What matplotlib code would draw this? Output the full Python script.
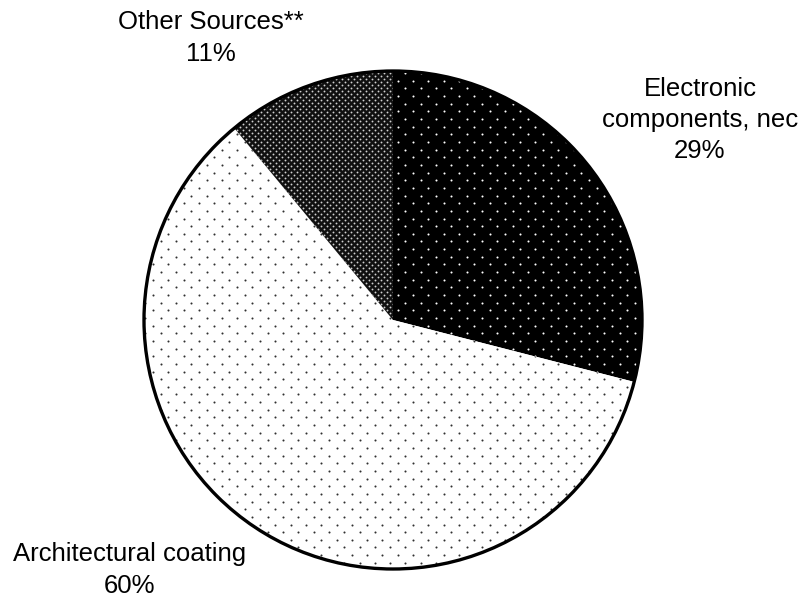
import numpy as np
import matplotlib
matplotlib.use("Agg")
import matplotlib.pyplot as plt

labels = ["Electronic\ncomponents, nec", "Architectural coating", "Other Sources**"]
shares = [29, 60, 11]
face_colors = ["#000000", "#ffffff", "#101010"]
dot_colors = ["#ffffff", "#303030", "#d0d0d0"]
dot_steps = [15.3, 15.3, 6.0]

W, H = 804, 601
fig = plt.figure(figsize=(W / 100, H / 100), dpi=100)
ax = fig.add_axes([0, 0, 1, 1])
cx, cy, R = 393, H - 320, 249

wedges, _ = ax.pie(shares, colors=face_colors, startangle=90, counterclock=False,
                   center=(cx, cy), radius=R, wedgeprops=dict(linewidth=0))

for w, dc, step in zip(wedges, dot_colors, dot_steps):
    ys = np.arange(0, H + step, step / 2)
    pts_x, pts_y = [], []
    for i, y in enumerate(ys):
        xs = np.arange(0, W + step, step) + (step / 2 if i % 2 else 0)
        pts_x.append(xs)
        pts_y.append(np.full_like(xs, y))
    sc = ax.scatter(np.concatenate(pts_x), np.concatenate(pts_y), s=2.2 if step > 10 else 1.8,
                    c=dc, marker="o", linewidths=0, zorder=3)
    sc.set_clip_path(w)

circle = plt.Circle((cx, cy), R, fill=False, edgecolor="black", linewidth=2.4, zorder=5)
ax.add_patch(circle)

font = dict(family=["Liberation Sans", "DejaVu Sans"], fontsize=18.5, ha="center", va="center",
            linespacing=1.38)
label_pos = [(700, H - 120), (130, H - 570), (211, H - 38)]
for lab, sh, (x, y) in zip(labels, shares, label_pos):
    ax.text(x, y, f"{lab}\n{sh}%", **font)

ax.set_xlim(0, W)
ax.set_ylim(0, H)
ax.set_aspect("auto")
ax.axis("off")
fig.savefig("out.png", dpi=100)
